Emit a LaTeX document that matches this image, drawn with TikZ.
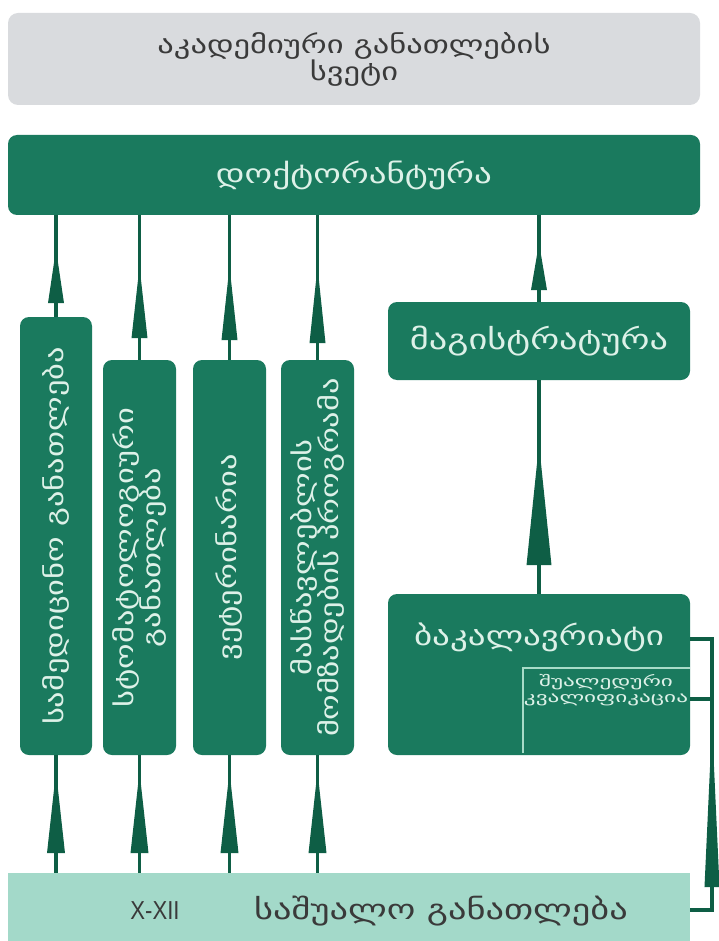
\documentclass[tikz,border=0pt]{standalone}
\usepackage{fontspec}
\setmainfont{DejaVu Sans}[FakeStretch=1.3]
\newfontfamily\widegeo{DejaVu Sans}[FakeStretch=1.6]
\newfontfamily\latf{Liberation Sans}[FakeStretch=0.85]
\usetikzlibrary{arrows.meta}
\definecolor{dgreen}{HTML}{1A7A5E}
\definecolor{agreen}{HTML}{0E5E45}
\definecolor{lteal}{HTML}{A3D9C9}
\definecolor{lgrey}{HTML}{D9DBDE}
\definecolor{mint}{HTML}{DDF1E8}
\definecolor{dtext}{HTML}{3A3A3A}
\definecolor{lline}{HTML}{A8DCC8}
\tikzset{
  gbox/.style={fill=dgreen, rounded corners=9pt, inner sep=0pt, text=mint, align=center},
  vbox/.style={gbox, rotate=90},
  conn/.style={draw=agreen, line width=3.5pt},
  spear/.style n args={3}{draw=agreen, fill=agreen, line width=3.5pt, -{Triangle[length=#2pt, width=#1pt]}, shorten >=#3pt},
}
\begin{document}
\begin{tikzpicture}[x=1pt,y=-1pt]
\useasboundingbox (0,0) rectangle (719,941);
% top grey box
\node (col) [fill=lgrey, rounded corners=10pt, minimum width=692pt, minimum height=92pt, text=dtext, align=center, font=\fontsize{25}{27}\selectfont] at (354,59) {აკადემიური განათლების\\სვეტი};
% doctorate
\node (doc) [gbox, minimum width=692pt, minimum height=80pt, font=\fontsize{27}{30}\selectfont] at (354,175) {დოქტორანტურა};
% master
\node (mag) [gbox, minimum width=302pt, minimum height=78pt, font=\fontsize{28}{30}\selectfont] at (539,341) {მაგისტრატურა};
% bachelor
\node (bak) [gbox, minimum width=302pt, minimum height=161pt] at (539,674.5) {};
\node (baktxt) [text=mint, font=\fontsize{27}{30}\selectfont] at (539,637) {ბაკალავრიატი};
\draw[lline, line width=2pt] (523,753) -- (523,668) -- (690,668);
\node (qual) [text=mint, align=center, font=\widegeo\fontsize{14.5}{15.5}\selectfont] at (606,690) {შუალედური\\კვალიფიკაცია};
% vertical programmes
\node (c1) [vbox, minimum width=438pt, minimum height=72pt, font=\fontsize{25}{27}\selectfont] at (56,536) {სამედიცინო განათლება};
\node (c2) [vbox, minimum width=395pt, minimum height=73pt, font=\fontsize{25}{27}\selectfont] at (139.5,557.5) {სტომატოლოგიური\\განათლება};
\node (c3) [vbox, minimum width=395pt, minimum height=73pt, font=\fontsize{25}{27}\selectfont] at (229.5,557.5) {ვეტერინარია};
\node (c4) [vbox, minimum width=395pt, minimum height=73pt, font=\fontsize{25}{27}\selectfont] at (317.5,557.5) {მასწავლებლის\\მომზადების პროგრამა};
% secondary
\node (sec) [fill=lteal, minimum width=682pt, minimum height=74pt, inner sep=0pt] at (349,910) {};
\node (grades) [text=dtext, font=\latf\fontsize{26}{28}\selectfont] at (155,911) {X-XII};
\node (sectxt) [text=dtext, font=\fontsize{28}{30}\selectfont] at (441,911) {საშუალო განათლება};
% arrows to doctorate
\foreach \c/\s/\l in {c1/33/55, c2/50/73, c3/50/75, c4/50/78}{
  \draw[conn] (\c.east) -- (\c.east |- doc.south);
  \draw[spear={15}{\l}{\s}] (\c.east) -- (\c.east |- doc.south);
}
\draw[conn] (mag.north) -- (mag.north |- doc.south);
\draw[spear={15}{48}{27}] (mag.north) -- (mag.north |- doc.south);
\draw[conn] (bak.north) -- (mag.south);
\draw[spear={24}{122}{63}] (bak.north) -- (mag.south);
% arrows from secondary
\foreach \c in {c1,c2,c3,c4}{
  \draw[conn] (\c.west |- sec.north) -- (\c.west);
  \draw[spear={17}{83}{15}] (\c.west |- sec.north) -- (\c.west);
}
% right side connector
\coordinate (r1) at (712,910);
\coordinate (r2) at (712,639);
\coordinate (r3) at (712,699);
\coordinate (q) at (690,699);
\draw[conn] (sec.east) -- (r1) -- (r2) -- (bak.east |- r2);
\draw[conn] (q) -- (r3);
\draw[spear={14}{167}{81}] (r1) -- (r2);
\end{tikzpicture}
\end{document}
